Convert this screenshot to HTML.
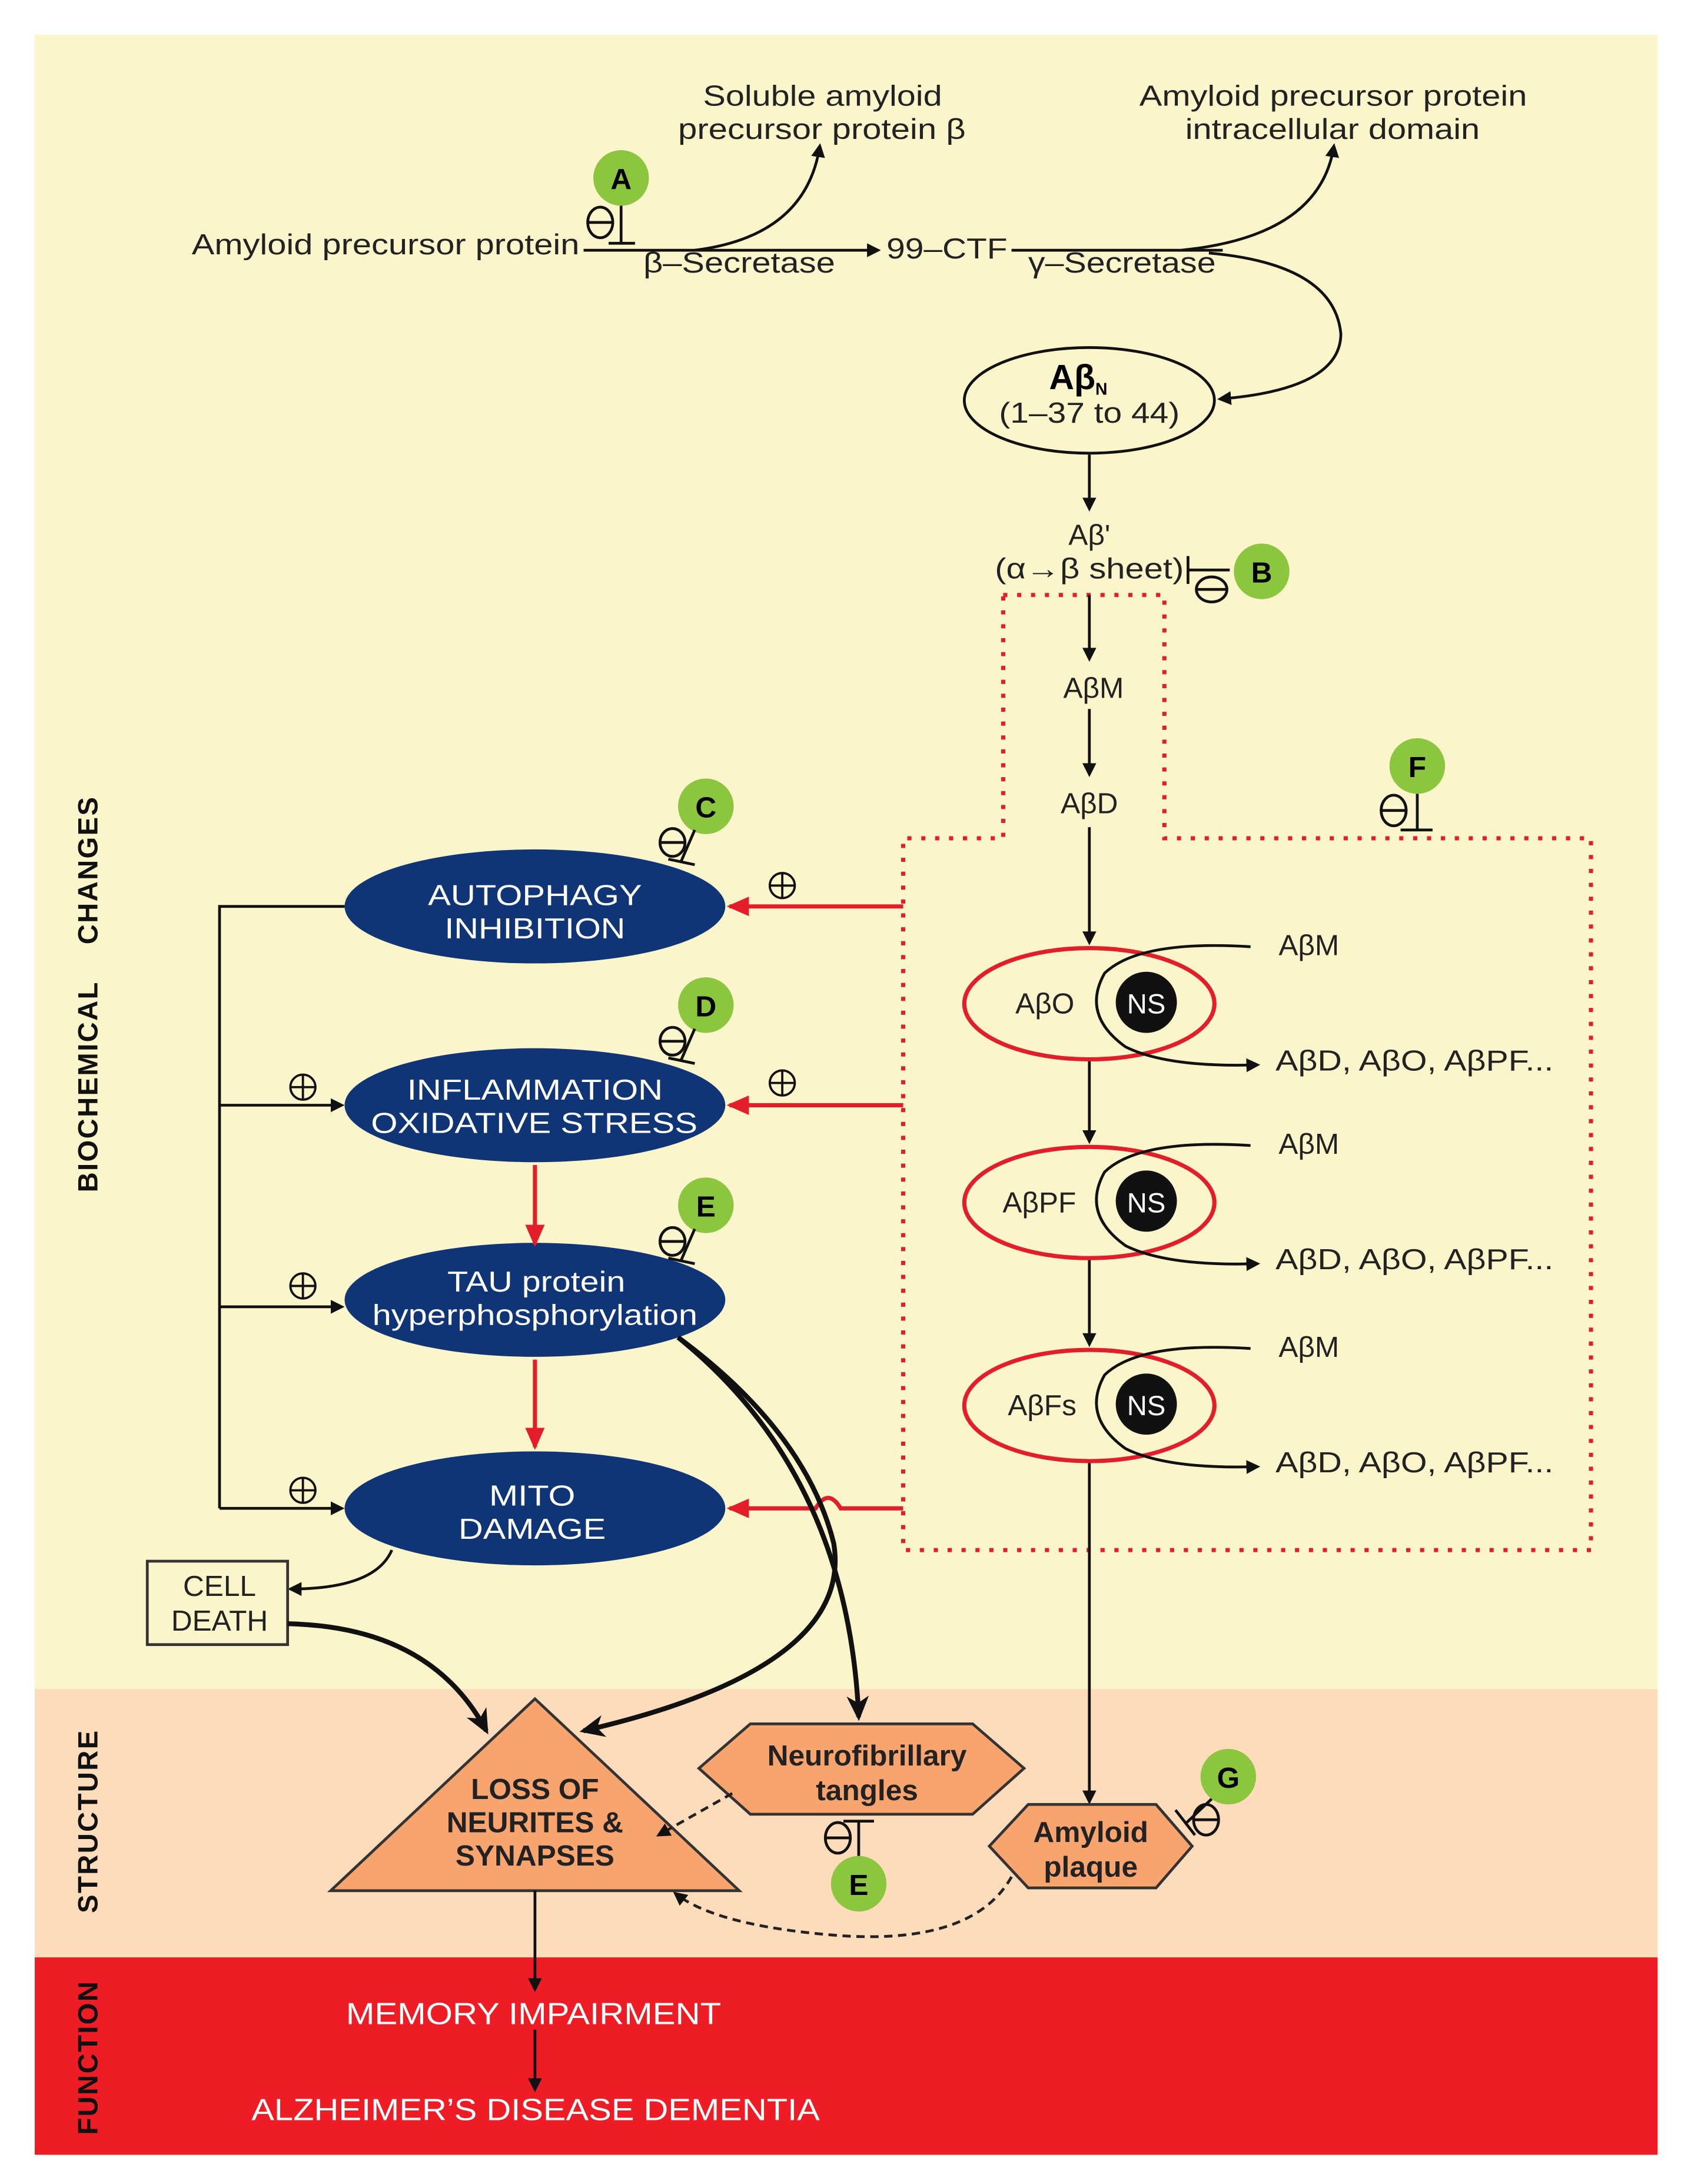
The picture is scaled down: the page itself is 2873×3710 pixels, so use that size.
<!DOCTYPE html>
<html><head><meta charset="utf-8"><style>
html,body{margin:0;padding:0;background:#fff;}
svg{display:block;}
text{font-family:"Liberation Sans",sans-serif;}
</style></head><body>
<svg width="2873" height="3710" viewBox="0 0 1217 1571" preserveAspectRatio="none" xmlns="http://www.w3.org/2000/svg">
<defs>
<marker id="ab" markerWidth="10" markerHeight="10" refX="8" refY="5" orient="auto" markerUnits="userSpaceOnUse"><path d="M0,0 L10,5 L0,10 z" fill="#111"/></marker>
<marker id="abig" markerWidth="18" markerHeight="16" refX="15" refY="8" orient="auto" markerUnits="userSpaceOnUse"><path d="M0,0 L18,8 L0,16 L5,8 z" fill="#111"/></marker>
<marker id="ar" markerWidth="16" markerHeight="14" refX="14" refY="7" orient="auto" markerUnits="userSpaceOnUse"><path d="M0,0 L16,7 L0,14 z" fill="#e31e2a"/></marker>
</defs>
<rect x="25" y="25" width="1168" height="1191" fill="#fbf5cb"/>
<rect x="25" y="1215" width="1168" height="194" fill="#fddcbc"/>
<rect x="25" y="1408" width="1168" height="142" fill="#ee1c25"/>

<g font-weight="bold" font-size="20" fill="#111" letter-spacing="1">
<text transform="translate(70,715) rotate(-90)" text-anchor="middle">BIOCHEMICAL&#160;&#160;&#160;&#160;CHANGES</text>
<text transform="translate(70,1310) rotate(-90)" text-anchor="middle">STRUCTURE</text>
<text transform="translate(70,1480) rotate(-90)" text-anchor="middle">FUNCTION</text>
</g>

<!-- top pathway -->
<g font-size="21" fill="#222" lengthAdjust="spacingAndGlyphs">
<text x="138" y="183" textLength="279" lengthAdjust="spacingAndGlyphs">Amyloid precursor protein</text>
<text x="463" y="196" textLength="138" lengthAdjust="spacingAndGlyphs">β–Secretase</text>
<text x="638" y="186" textLength="87" lengthAdjust="spacingAndGlyphs">99–CTF</text>
<text x="740" y="196" textLength="135" lengthAdjust="spacingAndGlyphs">γ–Secretase</text>
<text x="506" y="76" textLength="172" lengthAdjust="spacingAndGlyphs">Soluble amyloid</text>
<text x="488" y="100" textLength="207" lengthAdjust="spacingAndGlyphs">precursor protein β</text>
<text x="820" y="76" textLength="279" lengthAdjust="spacingAndGlyphs">Amyloid precursor protein</text>
<text x="853" y="100" textLength="212" lengthAdjust="spacingAndGlyphs">intracellular domain</text>
</g>
<g stroke="#111" stroke-width="2" fill="none">
<line x1="420" y1="180" x2="632" y2="180" marker-end="url(#ab)"/>
<path d="M500,180 Q580,170 590,105" marker-end="url(#ab)"/>
<line x1="728" y1="180" x2="880" y2="180"/>
<path d="M850,180 Q950,170 960,105" marker-end="url(#ab)"/>
<path d="M870,182 Q960,190 965,240 Q965,280 878,287" marker-end="url(#ab)"/>
</g>
<circle cx="447" cy="128" r="20" fill="#8cc63f"/>
<text x="447" y="136" font-size="21" font-weight="bold" text-anchor="middle">A</text>
<g stroke="#111" stroke-width="2" fill="none"><line x1="447" y1="148" x2="447" y2="175"/><line x1="438" y1="175" x2="457" y2="175"/><ellipse cx="432" cy="160" rx="9" ry="11"/><line x1="423" y1="160" x2="441" y2="160"/></g>

<ellipse cx="784" cy="288" rx="90" ry="38" fill="#fbf5cb" stroke="#111" stroke-width="2"/>
<text x="776" y="280" font-size="25" font-weight="bold" text-anchor="middle">Aβ<tspan font-size="12" dy="4">N</tspan></text>
<text x="784" y="304" font-size="21" text-anchor="middle" fill="#222" textLength="130" lengthAdjust="spacingAndGlyphs">(1–37 to 44)</text>
<line x1="784" y1="327" x2="784" y2="366" stroke="#111" stroke-width="2" marker-end="url(#ab)"/>
<text x="784" y="392" font-size="21" text-anchor="middle" fill="#222">Aβ'</text>
<text x="784" y="416" font-size="21" text-anchor="middle" fill="#222" textLength="136" lengthAdjust="spacingAndGlyphs">(α→β sheet)</text>
<g stroke="#111" stroke-width="2" fill="none"><line x1="855" y1="400" x2="855" y2="420"/><line x1="855" y1="410" x2="885" y2="410"/><ellipse cx="872" cy="424" rx="11" ry="9"/><line x1="861" y1="424" x2="883" y2="424"/></g>
<circle cx="908" cy="411" r="20" fill="#8cc63f"/>
<text x="908" y="419" font-size="21" font-weight="bold" text-anchor="middle">B</text>

<path d="M722,428 L838,428 L838,603 L1145,603 L1145,1115 L650,1115 L650,603 L722,603 Z" fill="none" stroke="#e31e2a" stroke-width="3" stroke-dasharray="3,7"/>

<g stroke="#111" stroke-width="2" fill="none">
<line x1="784" y1="428" x2="784" y2="474" marker-end="url(#ab)"/>
<line x1="784" y1="510" x2="784" y2="557" marker-end="url(#ab)"/>
<line x1="784" y1="595" x2="784" y2="678" marker-end="url(#ab)"/>
<line x1="784" y1="762" x2="784" y2="821" marker-end="url(#ab)"/>
<line x1="784" y1="905" x2="784" y2="967" marker-end="url(#ab)"/>
<line x1="784" y1="1052" x2="784" y2="1296" marker-end="url(#ab)"/>
</g>
<g font-size="21" fill="#222" text-anchor="middle">
<text x="787" y="502">AβM</text>
<text x="784" y="585">AβD</text>
</g>
<circle cx="1020" cy="551" r="20" fill="#8cc63f"/>
<text x="1020" y="559" font-size="21" font-weight="bold" text-anchor="middle">F</text>
<g stroke="#111" stroke-width="2" fill="none"><line x1="1020" y1="571" x2="1020" y2="597"/><line x1="1008" y1="597" x2="1031" y2="597"/><ellipse cx="1003" cy="583" rx="9" ry="11"/><line x1="994" y1="583" x2="1012" y2="583"/></g>

<g id="g1">
<ellipse cx="784" cy="722" rx="90" ry="40" fill="none" stroke="#e31e2a" stroke-width="3"/>
<circle cx="825" cy="721" r="22" fill="#111"/>
<path d="M900,681 Q820,676 795,700 Q778,730 810,753 Q840,768 905,766" fill="none" stroke="#111" stroke-width="2" marker-end="url(#ab)"/>
<text x="825" y="729" font-size="20" fill="#fff" text-anchor="middle">NS</text>
<text x="942" y="687" font-size="21" fill="#222" text-anchor="middle">AβM</text>
<text x="918" y="770" font-size="21" fill="#222" textLength="200" lengthAdjust="spacingAndGlyphs">AβD, AβO, AβPF...</text>
</g>
<text x="752" y="729" font-size="21" fill="#222" text-anchor="middle">AβO</text>
<use href="#g1" transform="translate(0,143)"/>
<text x="748" y="872" font-size="21" fill="#222" text-anchor="middle">AβPF</text>
<use href="#g1" transform="translate(0,289)"/>
<text x="750" y="1018" font-size="21" fill="#222" text-anchor="middle">AβFs</text>

<g fill="#0f3576">
<ellipse cx="385" cy="652" rx="137" ry="41"/>
<ellipse cx="385" cy="795" rx="137" ry="41"/>
<ellipse cx="385" cy="935" rx="137" ry="41"/>
<ellipse cx="385" cy="1085" rx="137" ry="41"/>
</g>
<g font-size="21" fill="#fff">
<text x="308" y="651" textLength="154" lengthAdjust="spacingAndGlyphs">AUTOPHAGY</text><text x="320" y="675" textLength="130" lengthAdjust="spacingAndGlyphs">INHIBITION</text>
<text x="293" y="791" textLength="184" lengthAdjust="spacingAndGlyphs">INFLAMMATION</text><text x="267" y="815" textLength="235" lengthAdjust="spacingAndGlyphs">OXIDATIVE STRESS</text>
<text x="322" y="929" textLength="128" lengthAdjust="spacingAndGlyphs">TAU protein</text><text x="268" y="953" textLength="234" lengthAdjust="spacingAndGlyphs">hyperphosphorylation</text>
<text x="352" y="1083" textLength="62" lengthAdjust="spacingAndGlyphs">MITO</text><text x="330" y="1107" textLength="106" lengthAdjust="spacingAndGlyphs">DAMAGE</text>
</g>

<g stroke="#e31e2a" stroke-width="3" fill="none">
<line x1="650" y1="652" x2="525" y2="652" marker-end="url(#ar)"/>
<line x1="650" y1="795" x2="525" y2="795" marker-end="url(#ar)"/>
<path d="M650,1085 L605,1085 Q596,1070 587,1085 L525,1085" marker-end="url(#ar)"/>
<line x1="385" y1="838" x2="385" y2="895" marker-end="url(#ar)"/>
<line x1="385" y1="978" x2="385" y2="1041" marker-end="url(#ar)"/>
</g>
<g stroke="#111" stroke-width="1.6" fill="none">
<circle cx="563" cy="637" r="9"/><path d="M554,637h18M563,628v18"/>
<circle cx="563" cy="779" r="9"/><path d="M554,779h18M563,770v18"/>
<circle cx="218" cy="782" r="9"/><path d="M209,782h18M218,773v18"/>
<circle cx="218" cy="925" r="9"/><path d="M209,925h18M218,916v18"/>
<circle cx="218" cy="1072" r="9"/><path d="M209,1072h18M218,1063v18"/>
</g>
<g stroke="#111" stroke-width="2" fill="none">
<polyline points="248,652 158,652 158,1085"/>
<line x1="158" y1="795" x2="246" y2="795" marker-end="url(#ab)"/>
<line x1="158" y1="940" x2="246" y2="940" marker-end="url(#ab)"/>
<line x1="158" y1="1085" x2="246" y2="1085" marker-end="url(#ab)"/>
<path d="M282,1115 Q270,1143 209,1143" marker-end="url(#ab)"/>
</g>

<g id="inh">
<circle cx="508" cy="580" r="20" fill="#8cc63f"/>
<g stroke="#111" stroke-width="2" fill="none"><line x1="500" y1="597" x2="490" y2="620"/><line x1="481" y1="618" x2="500" y2="622"/><ellipse cx="484" cy="606" rx="9" ry="10"/><line x1="475" y1="606" x2="493" y2="606"/></g>
</g>
<text x="508" y="588" font-size="21" font-weight="bold" text-anchor="middle">C</text>
<use href="#inh" transform="translate(0,143)"/>
<text x="508" y="731" font-size="21" font-weight="bold" text-anchor="middle">D</text>
<use href="#inh" transform="translate(0,287)"/>
<text x="508" y="875" font-size="21" font-weight="bold" text-anchor="middle">E</text>

<rect x="106" y="1123" width="101" height="60" fill="#fbf5cb" stroke="#333" stroke-width="2"/>
<text x="158" y="1148" font-size="21" text-anchor="middle" fill="#222">CELL</text>
<text x="158" y="1173" font-size="21" text-anchor="middle" fill="#222">DEATH</text>

<g stroke="#111" stroke-width="3.5" fill="none">
<path d="M207,1168 Q310,1170 350,1245" marker-end="url(#abig)"/>
<path d="M488,962 Q580,1030 600,1110 Q615,1200 420,1245" marker-end="url(#abig)"/>
<path d="M488,962 Q610,1060 618,1235" marker-end="url(#abig)"/>
</g>

<polygon points="385,1222 532,1360 238,1360" fill="#f8a46f" stroke="#333" stroke-width="2"/>
<g font-size="21" font-weight="bold" text-anchor="middle" fill="#222">
<text x="385" y="1294">LOSS OF</text><text x="385" y="1318">NEURITES &amp;</text><text x="385" y="1342">SYNAPSES</text>
</g>
<polygon points="540,1240 700,1240 737,1272 700,1305 540,1305 503,1272" fill="#f8a46f" stroke="#333" stroke-width="2"/>
<text x="624" y="1270" font-size="21" font-weight="bold" text-anchor="middle" fill="#222">Neurofibrillary</text>
<text x="624" y="1295" font-size="21" font-weight="bold" text-anchor="middle" fill="#222">tangles</text>
<polygon points="740,1298 832,1298 858,1328 832,1358 740,1358 712,1328" fill="#f8a46f" stroke="#333" stroke-width="2"/>
<text x="785" y="1325" font-size="21" font-weight="bold" text-anchor="middle" fill="#222">Amyloid</text>
<text x="785" y="1350" font-size="21" font-weight="bold" text-anchor="middle" fill="#222">plaque</text>
<circle cx="618" cy="1355" r="20" fill="#8cc63f"/>
<text x="618" y="1363" font-size="21" font-weight="bold" text-anchor="middle">E</text>
<g stroke="#111" stroke-width="2" fill="none"><line x1="618" y1="1335" x2="618" y2="1310"/><line x1="607" y1="1310" x2="629" y2="1310"/><ellipse cx="603" cy="1322" rx="9" ry="11"/><line x1="594" y1="1322" x2="612" y2="1322"/></g>
<circle cx="884" cy="1278" r="20" fill="#8cc63f"/>
<text x="884" y="1286" font-size="21" font-weight="bold" text-anchor="middle">G</text>
<g stroke="#111" stroke-width="2" fill="none"><line x1="872" y1="1294" x2="853" y2="1312"/><line x1="846" y1="1302" x2="860" y2="1320"/><ellipse cx="868" cy="1309" rx="9" ry="11"/><line x1="859" y1="1309" x2="877" y2="1309"/></g>
<g stroke="#222" stroke-width="2" fill="none" stroke-dasharray="6,4">
<line x1="527" y1="1290" x2="474" y2="1320" marker-end="url(#ab)"/>
<path d="M728,1350 Q700,1400 600,1392 Q515,1385 486,1362" marker-end="url(#ab)"/>
</g>

<g stroke="#111" stroke-width="2">
<line x1="385" y1="1360" x2="385" y2="1431" marker-end="url(#ab)"/>
<line x1="385" y1="1460" x2="385" y2="1503" marker-end="url(#ab)"/>
</g>
<text x="249" y="1456" font-size="22" fill="#fff" textLength="270" lengthAdjust="spacingAndGlyphs">MEMORY IMPAIRMENT</text>
<text x="181" y="1525" font-size="22" fill="#fff" textLength="409" lengthAdjust="spacingAndGlyphs">ALZHEIMER’S DISEASE DEMENTIA</text>
</svg>
</body></html>
